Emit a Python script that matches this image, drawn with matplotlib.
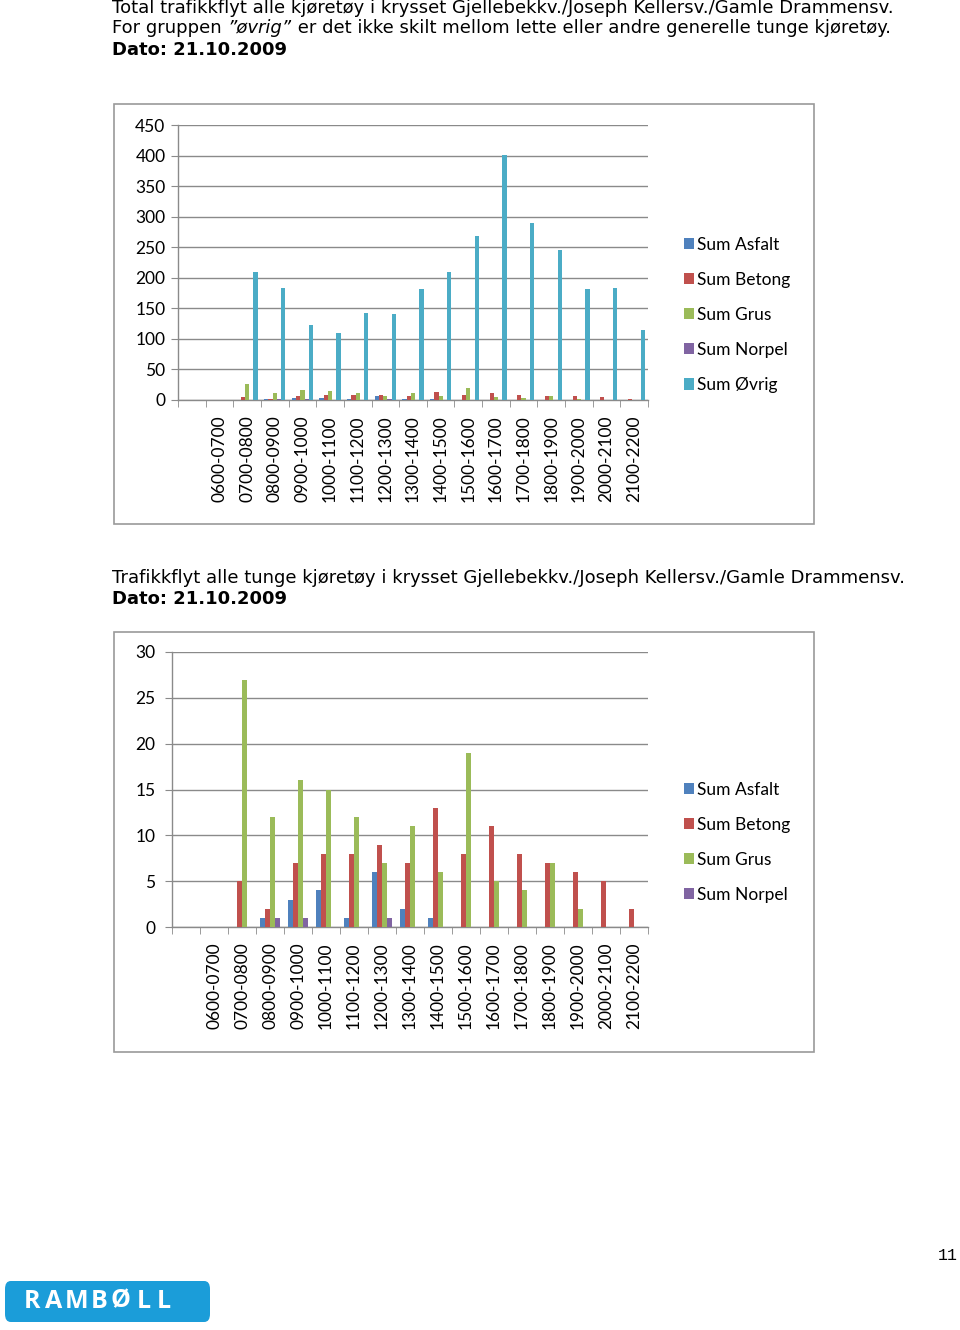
import matplotlib
matplotlib.use("Agg")
import matplotlib.pyplot as plt
from matplotlib.patches import Rectangle, FancyBboxPatch
import numpy as np

# Chart data (first category is an empty one in the source chart)
categories = ['', '0600-0700', '0700-0800', '0800-0900', '0900-1000', '1000-1100',
              '1100-1200', '1200-1300', '1300-1400', '1400-1500', '1500-1600',
              '1600-1700', '1700-1800', '1800-1900', '1900-2000', '2000-2100',
              '2100-2200']
sum_asfalt = [0, 0, 0, 1, 3, 4, 1, 6, 2, 1, 0, 0, 0, 0, 0, 0, 0]
sum_betong = [0, 0, 5, 2, 7, 8, 8, 9, 7, 13, 8, 11, 8, 7, 6, 5, 2]
sum_grus = [0, 0, 27, 12, 16, 15, 12, 7, 11, 6, 19, 5, 4, 7, 2, 0, 0]
sum_norpel = [0, 0, 0, 1, 1, 0, 0, 1, 0, 0, 0, 0, 0, 0, 0, 0, 0]
sum_ovrig = [0, 0, 210, 184, 123, 109, 143, 140, 181, 209, 268, 401, 289, 245, 181, 184, 114]

series_names = ['Sum Asfalt', 'Sum Betong', 'Sum Grus', 'Sum Norpel', 'Sum Øvrig']
colors = ['#4F81BD', '#C0504D', '#9BBB59', '#8064A2', '#4BACC6']

W, H = 960, 1330
GRID = '#8a8a8a'
CHART_FONT = ['Lato', 'DejaVu Sans']
PAGE_FONT = ['DejaVu Sans']
PAGE_SIZE = 13

fig = plt.figure(figsize=(W / 100, H / 100), dpi=100)
fig.patch.set_facecolor('white')


def fx(px):
    return px / W


def fy(py):
    return 1 - py / H


# Draw a clustered bar chart into ax
def draw_chart(ax, data, names, cols, ymax, ystep, legend_top, ypad):
    n = len(data)
    x = np.arange(len(categories))
    w = 1 / (n + 1.5)
    for i, (vals, name, c) in enumerate(zip(data, names, cols)):
        ax.bar(x + (i - (n - 1) / 2) * w, vals, width=w, color=c, label=name,
               zorder=3, linewidth=0)
    ax.set_xlim(-0.5, len(categories) - 0.5)
    ax.set_ylim(0, ymax)
    ax.set_yticks(np.arange(0, ymax + 1, ystep))
    ax.yaxis.grid(True, color=GRID, linewidth=1)
    ax.set_axisbelow(True)
    for s in ['top', 'right']:
        ax.spines[s].set_visible(False)
    for s in ['left', 'bottom']:
        ax.spines[s].set_color(GRID)
        ax.spines[s].set_linewidth(1)
    ax.set_xticks(x)
    ax.set_xticklabels(categories, rotation=90, family=CHART_FONT, fontsize=12.5)
    ax.set_xticks(np.arange(-0.5, len(categories)), minor=True)
    ax.tick_params(axis='x', which='major', length=0, pad=11)
    ax.tick_params(axis='x', which='minor', length=5, color=GRID)
    ax.tick_params(axis='y', length=5, color=GRID, pad=ypad)
    for lab in ax.get_yticklabels():
        lab.set_family(CHART_FONT)
        lab.set_fontsize(12.5)
    ax.legend(loc='upper left', bbox_to_anchor=(fx(668), fy(legend_top)),
              bbox_transform=fig.transFigure, frameon=False,
              handlelength=0.62, handleheight=0.62, handletextpad=0.15,
              labelspacing=1.1, prop={'family': CHART_FONT, 'size': 12.5})


# Page texts
fig.text(fx(112), fy(8), "Total trafikkflyt alle kjøretøy i krysset Gjellebekkv./Joseph Kellersv./Gamle Drammensv.",
         family=PAGE_FONT, fontsize=PAGE_SIZE, va='center')

renderer = fig.canvas.get_renderer()
x_cur = fx(112)
for part, style in [("For gruppen ", 'normal'), ("”øvrig”", 'italic'),
                    (" er det ikke skilt mellom lette eller andre generelle tunge kjøretøy.", 'normal')]:
    t = fig.text(x_cur, fy(28), part, family=PAGE_FONT, fontsize=PAGE_SIZE, style=style, va='center')
    bb = t.get_window_extent(renderer)
    x_cur += bb.width / W
fig.text(fx(112), fy(50), "Dato: 21.10.2009", family=PAGE_FONT, fontsize=PAGE_SIZE,
         weight='bold', va='center')

fig.text(fx(112), fy(578), "Trafikkflyt alle tunge kjøretøy i krysset Gjellebekkv./Joseph Kellersv./Gamle Drammensv.",
         family=PAGE_FONT, fontsize=PAGE_SIZE, va='center')
fig.text(fx(112), fy(599), "Dato: 21.10.2009", family=PAGE_FONT, fontsize=PAGE_SIZE,
         weight='bold', va='center')

# Chart frames
for top in [104, 632]:
    fig.patches.append(Rectangle((fx(114), fy(top + 420)), 700 / W, 420 / H,
                                 transform=fig.transFigure, fill=False,
                                 edgecolor='#9a9a9a', linewidth=1.2))

# Chart 1: all vehicles
ax1 = fig.add_axes([fx(178), fy(400), 470 / W, 275 / H])
draw_chart(ax1, [sum_asfalt, sum_betong, sum_grus, sum_norpel, sum_ovrig],
           series_names, colors, 450, 50, 221, 4)

# Chart 2: heavy vehicles
ax2 = fig.add_axes([fx(172), fy(927), 476 / W, 275 / H])
draw_chart(ax2, [sum_asfalt, sum_betong, sum_grus, sum_norpel],
           series_names[:4], colors[:4], 30, 5, 766, 7)

# Page number and logo
fig.text(fx(958), fy(1255), "11", family=['Liberation Mono'], fontsize=12,
         ha='right', va='center')
fig.patches.append(FancyBboxPatch((fx(5), fy(1322)), 205 / W, 41 / H,
                                  boxstyle="round,pad=0.0,rounding_size=0.006",
                                  transform=fig.transFigure, facecolor='#1B9DD9',
                                  edgecolor='none'))
logo_x = [32, 54, 77, 99, 121, 144, 164]
for ch, lx in zip("RAMBØLL", logo_x):
    fig.text(fx(lx), fy(1301), ch, family=['Open Sans', 'DejaVu Sans'],
             fontsize=18, weight='bold', color='white', ha='center', va='center')

fig.savefig("out.png", dpi=100, facecolor='white')
